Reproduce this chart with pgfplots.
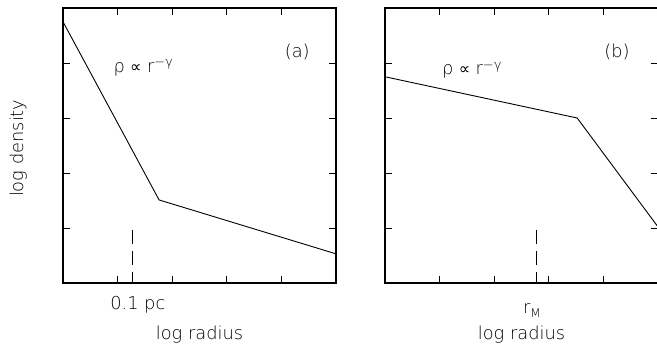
\documentclass[border=0pt]{standalone}
\usepackage{fontspec}
\setmainfont{DejaVu Sans ExtraLight}
\newfontfamily\dv{DejaVu Sans}
\usepackage{pgfplots}
\pgfplotsset{compat=1.18}
\newcommand{\lbl}{\fontsize{17.8}{21}\selectfont}
\newcommand{\rholaw}{ρ\hspace{0.3em}{\dv\fontsize{16}{18}\selectfont ∝}\hspace{0.3em}r\raisebox{0.55ex}{\fontsize{13}{15}\selectfont −γ}}
\begin{document}
\begin{tikzpicture}
\pgfplotsset{
  panel/.style={
    anchor=south west, scale only axis, width=273pt, height=275pt,
    xmin=0, xmax=5, ymin=0, ymax=5,
    xtick={1,2,3,4}, ytick={1,2,3,4},
    xticklabels={}, yticklabels={},
    tick align=inside, major tick length=7pt,
    tick style={black, line width=0.9pt},
    axis line style={black, line width=1.1pt},
    clip=false,
    every axis plot/.append style={black, line width=0.9pt},
  }
}
\begin{axis}[panel, at={(63pt,62pt)}]
  \addplot[mark=none] coordinates {(0,4.75) (1.76,1.51) (5,0.53)};
  \addplot[mark=none, dash pattern=on 14pt off 7pt] coordinates {(1.27,0.96) (1.27,0)};
  \node[font=\lbl] at (axis cs:1.37,-0.40) {0.1 pc};
  \node[font=\lbl] at (axis cs:2.5,-0.945) {log radius};
  \node[font=\lbl, rotate=90] at (axis cs:-0.82,2.45) {log density};
  \node[font=\lbl] at (axis cs:4.29,4.2) {(a)};
  \node[font=\lbl] at (axis cs:1.47,3.91) {\rholaw};
\end{axis}
\begin{axis}[panel, at={(385pt,62pt)}]
  \addplot[mark=none] coordinates {(0,3.75) (3.52,3.0) (5,1.02)};
  \addplot[mark=none, dash pattern=on 14pt off 7pt] coordinates {(2.77,0.96) (2.77,0)};
  \node[font=\lbl] at (axis cs:2.69,-0.50) {r\raisebox{-0.45ex}{\fontsize{12}{14}\selectfont M}};
  \node[font=\lbl] at (axis cs:2.5,-0.945) {log radius};
  \node[font=\lbl] at (axis cs:4.25,4.2) {(b)};
  \node[font=\lbl] at (axis cs:1.59,3.87) {\rholaw};
\end{axis}
\pgfresetboundingbox
\useasboundingbox (0pt,0pt) rectangle (657pt,345pt);
\end{tikzpicture}
\end{document}
